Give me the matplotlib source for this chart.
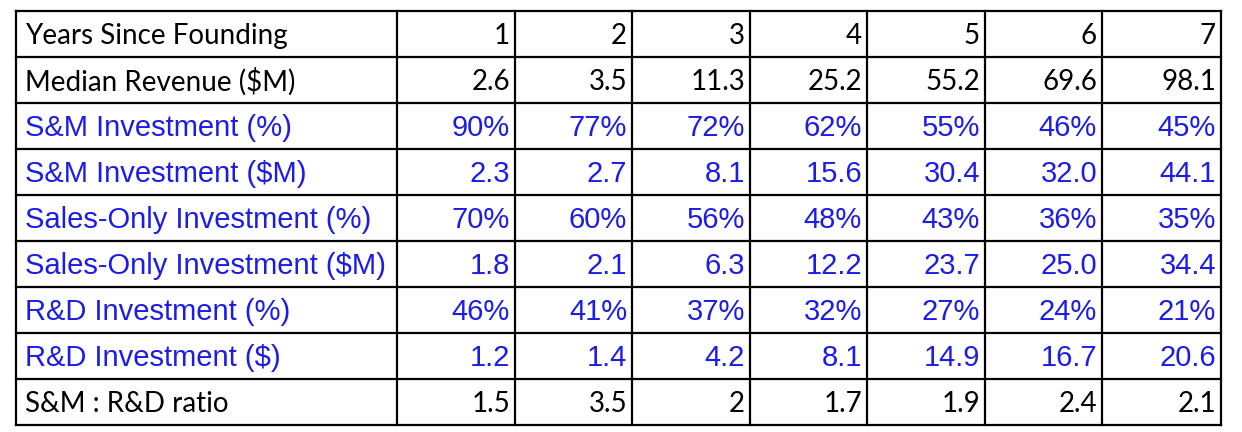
import matplotlib
matplotlib.use("Agg")
import matplotlib.pyplot as plt

# === Table data ===
row_labels = ["Years Since Founding", "Median Revenue ($M)", "S&M Investment (%)",
              "S&M Investment ($M)", "Sales-Only Investment (%)",
              "Sales-Only Investment ($M)", "R&D Investment (%)",
              "R&D Investment ($)", "S&M : R&D ratio"]
years = ["1", "2", "3", "4", "5", "6", "7"]
revenue = ["2.6", "3.5", "11.3", "25.2", "55.2", "69.6", "98.1"]
sm_pct = ["90%", "77%", "72%", "62%", "55%", "46%", "45%"]
sm_usd = ["2.3", "2.7", "8.1", "15.6", "30.4", "32.0", "44.1"]
sales_pct = ["70%", "60%", "56%", "48%", "43%", "36%", "35%"]
sales_usd = ["1.8", "2.1", "6.3", "12.2", "23.7", "25.0", "34.4"]
rd_pct = ["46%", "41%", "37%", "32%", "27%", "24%", "21%"]
rd_usd = ["1.2", "1.4", "4.2", "8.1", "14.9", "16.7", "20.6"]
ratio = ["1.5", "3.5", "2", "1.7", "1.9", "2.4", "2.1"]
rows = [years, revenue, sm_pct, sm_usd, sales_pct, sales_usd, rd_pct, rd_usd, ratio]
blue_rows = {2, 3, 4, 5, 6, 7}

BLUE = "#1c1ce8"

fig = plt.figure(figsize=(12.42, 4.32), dpi=100)
ax = fig.add_axes([0, 0, 1, 1])
ax.set_xlim(0, 1242)
ax.set_ylim(432, 0)
ax.axis("off")

col_edges = [16, 397, 515, 632, 750, 867, 985, 1102, 1221]
top, rh = 11, 46
row_edges = [top + i * rh for i in range(len(rows) + 1)]

for x in col_edges:
    ax.plot([x, x], [row_edges[0], row_edges[-1]], color="black", lw=1.6)
for y in row_edges:
    ax.plot([col_edges[0], col_edges[-1]], [y, y], color="black", lw=1.6)

for i, (label, vals) in enumerate(zip(row_labels, rows)):
    yc = top + rh * i + rh / 2 + 2
    if i in blue_rows:
        kw = dict(color=BLUE, fontsize=21, family="Liberation Sans")
    else:
        kw = dict(color="black", fontsize=20, family="Lato")
    ax.text(col_edges[0] + 9, yc, label, ha="left", va="center", **kw)
    for j, v in enumerate(vals):
        ax.text(col_edges[j + 2] - 5, yc, v, ha="right", va="center", **kw)

fig.savefig("out.png", dpi=100)
